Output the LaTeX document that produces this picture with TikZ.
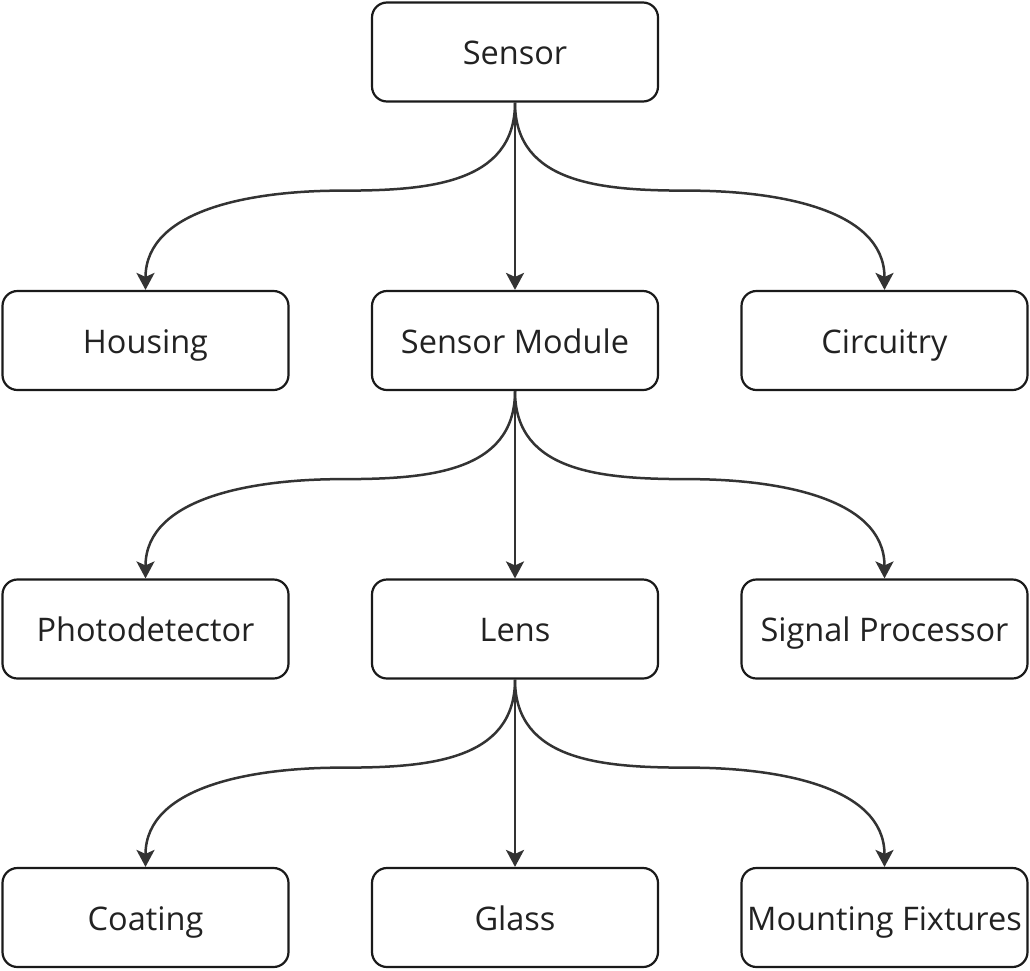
\documentclass[tikz,border=0pt]{standalone}
\usepackage{fontspec}
\setmainfont{Open Sans}
\usetikzlibrary{arrows.meta,calc}
\definecolor{boxline}{HTML}{1A1A1A}
\definecolor{arrline}{HTML}{333333}
\definecolor{txt}{HTML}{222222}
\tikzset{
  box/.style={draw=boxline, line width=2.2pt, rounded corners=15pt, fill=white,
    minimum width=286pt, minimum height=99pt, inner sep=0pt, text=txt,
    text height=30pt, text depth=5pt,
    font=\fontsize{32.5}{38}\selectfont},
  arr/.style={draw=arrline, line width=2.5pt, -{Stealth[length=17pt,width=18pt,inset=4pt]}},
}
\begin{document}
\begin{tikzpicture}[x=1pt,y=-1pt]
\useasboundingbox (0,0) rectangle (1030,970);
\node[box] (s)  at (515,52) {Sensor};
\node[box] (h)  at (145.5,340.5) {Housing};
\node[box] (sm) at (515,340.5) {Sensor Module};
\node[box] (c)  at (884.5,340.5) {Circuitry};
\node[box] (p)  at (145.5,629) {Photodetector};
\node[box] (l)  at (515,629) {Lens};
\node[box] (sp) at (884.5,629) {Signal Processor};
\node[box] (co) at (145.5,917.5) {Coating};
\node[box] (g)  at (515,917.5) {Glass};
\node[box] (mf) at (884.5,917.5) {Mounting Fixtures};
\foreach \pa/\la/\ma/\ra in {s/h/sm/c, sm/p/l/sp, l/co/g/mf}{
  \coordinate (ml) at ($(\pa.south)!0.47!(\la.north)$);
  \coordinate (mr) at ($(\pa.south)!0.47!(\ra.north)$);
  \draw[arr] (\pa.south) .. controls +(0,82) and +(85,0) .. (ml)
     .. controls +(-85,0) and +(0,-82) .. (\la.north);
  \draw[arr] (\pa.south) .. controls +(0,82) and +(-85,0) .. (mr)
     .. controls +(85,0) and +(0,-82) .. (\ra.north);
  \draw[arr] (\pa.south) -- (\ma.north);
}
\end{tikzpicture}
\end{document}
